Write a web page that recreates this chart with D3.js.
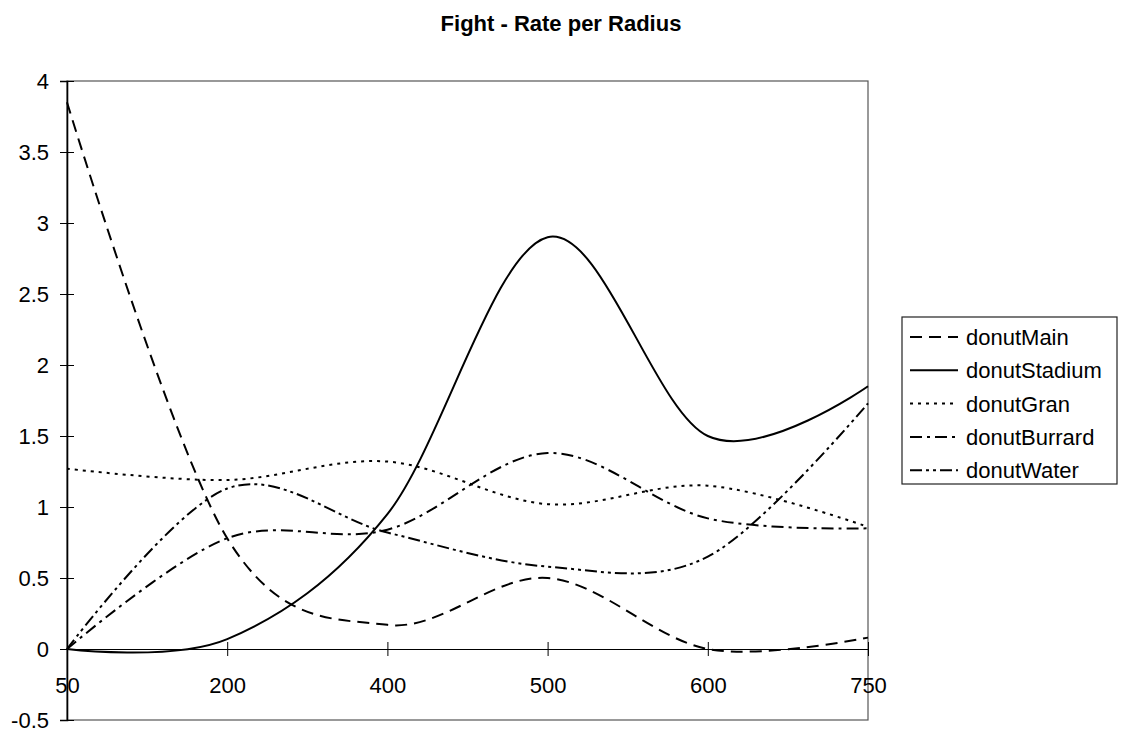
<!DOCTYPE html>
<html>
<head>
<meta charset="utf-8">
<script src="https://cdn.jsdelivr.net/npm/d3@7"></script>
<style>
  body { margin: 0; background: #fff; }
  text { font-family: "Liberation Sans", Arial, sans-serif; fill: #000; }
</style>
</head>
<body>
<div id="chart"></div>
<script>
// radius categories on the x axis
const categories = ['50', '200', '400', '500', '600', '750'];

// rate per radius, one array per series
const donutMain = [3.85, 0.78, 0.17, 0.50, 0.00, 0.08];
const donutStadium = [0.00, 0.07, 0.95, 2.90, 1.50, 1.85];
const donutGran = [1.27, 1.19, 1.32, 1.02, 1.15, 0.86];
const donutBurrard = [0.00, 0.78, 0.84, 1.38, 0.92, 0.85];
const donutWater = [0.00, 1.13, 0.82, 0.58, 0.65, 1.73];

const seriesNames = ['donutMain', 'donutStadium', 'donutGran', 'donutBurrard', 'donutWater'];
const yTicks = [-0.5, 0, 0.5, 1, 1.5, 2, 2.5, 3, 3.5, 4];

const series = [
    {name: seriesNames[0], values: donutMain, dash: '12,7'},
    {name: seriesNames[1], values: donutStadium, dash: null},
    {name: seriesNames[2], values: donutGran, dash: '3,5'},
    {name: seriesNames[3], values: donutBurrard, dash: '12,5,3,5'},
    {name: seriesNames[4], values: donutWater, dash: '12,4,3,4,3,4'}
];

const width = 1122;
const height = 734;
const margin = {top: 81, right: 254, bottom: 14, left: 67};

const svg = d3.select('#chart')
    .append('svg')
    .attr('width', width)
    .attr('height', height);

const x = d3.scalePoint()
    .domain(categories)
    .range([margin.left, width - margin.right]);

const y = d3.scaleLinear()
    .domain([-0.5, 4])
    .range([height - margin.bottom, margin.top]);

// title
svg.append('text')
    .attr('x', 561)
    .attr('y', 31)
    .style('text-anchor', 'middle')
    .style('font-size', '22px')
    .style('font-weight', 'bold')
    .text('Fight - Rate per Radius');

// plot border
svg.append('rect')
    .attr('x', x.range()[0])
    .attr('y', y(4))
    .attr('width', x.range()[1] - x.range()[0])
    .attr('height', y(-0.5) - y(4))
    .attr('fill', 'none')
    .attr('stroke', '#555')
    .attr('stroke-width', 1.2);

// y axis with crossing ticks
const yAxis = svg.append('g')
    .attr('transform', `translate(${margin.left}, 0)`)
    .call(d3.axisLeft(y).tickValues(yTicks).tickSize(7).tickPadding(11).tickFormat(d => String(d)));
yAxis.select('.domain').attr('stroke', '#000').attr('stroke-width', 1.6);
yAxis.selectAll('.tick line').attr('x1', 7).attr('x2', -7).attr('stroke', '#000');
yAxis.selectAll('.tick text')
    .style('font-size', '22px')
    .attr('font-family', null);

// x axis sits on zero
const xAxis = svg.append('g')
    .attr('transform', `translate(0, ${y(0)})`)
    .call(d3.axisBottom(x).tickSize(7).tickSizeOuter(0));
xAxis.select('.domain').attr('stroke', '#000').attr('stroke-width', 1.2);
xAxis.selectAll('.tick line').attr('y1', -7).attr('y2', 7).attr('stroke', '#000');
xAxis.selectAll('.tick text')
    .attr('y', 44)
    .attr('dy', null)
    .attr('font-family', null)
    .style('font-size', '22px');

const line = d3.line()
    .x((d, i) => x(categories[i]))
    .y(d => y(d))
    .curve(d3.curveCardinal.tension(0));

svg.selectAll('path.series')
    .data(series)
    .enter().append('path')
    .attr('class', 'series')
    .attr('d', d => line(d.values))
    .attr('fill', 'none')
    .attr('stroke', '#000')
    .attr('stroke-width', 2)
    .attr('stroke-dasharray', d => d.dash);

// legend
const legend = svg.append('g');
legend.append('rect')
    .attr('x', 902)
    .attr('y', 317)
    .attr('width', 215)
    .attr('height', 167)
    .attr('fill', '#fff')
    .attr('stroke', '#222')
    .attr('stroke-width', 1.2);

const rows = legend.selectAll('g.row')
    .data(series)
    .enter().append('g')
    .attr('class', 'row')
    .attr('transform', (d, i) => `translate(0, ${337 + i * 33.3})`);

rows.append('line')
    .attr('x1', 910)
    .attr('x2', 958)
    .attr('stroke', '#000')
    .attr('stroke-width', 2)
    .attr('stroke-dasharray', d => d.dash);

rows.append('text')
    .attr('x', 966)
    .attr('dy', '0.36em')
    .style('font-size', '22px')
    .text(d => d.name);
</script>
</body>
</html>
